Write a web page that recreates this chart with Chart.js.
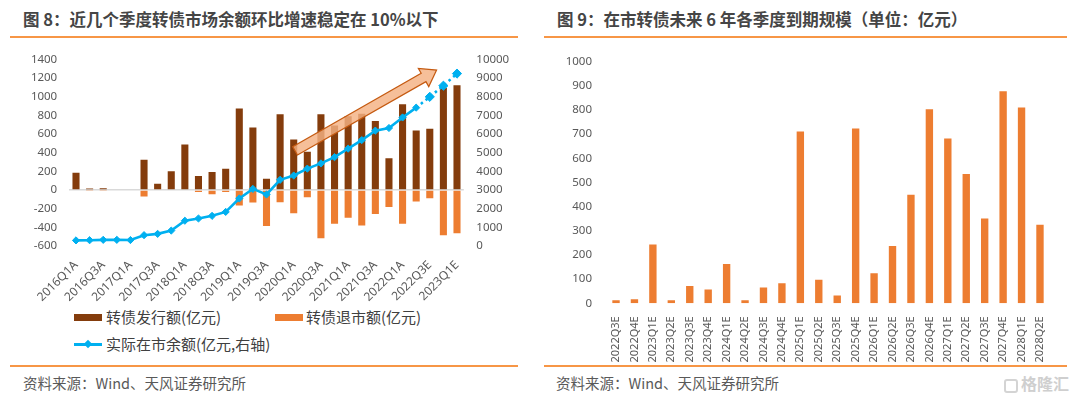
<!DOCTYPE html>
<html><head><meta charset="utf-8">
<script src="https://cdn.jsdelivr.net/npm/chart.js@4.4.0/dist/chart.umd.min.js"></script>
<style>
body{margin:0;width:1080px;height:399px;background:#fff;position:relative;overflow:hidden;font-family:"Noto Sans CJK SC","Noto Sans",sans-serif;}
.title{position:absolute;top:7px;font-size:16.5px;font-weight:bold;color:#454545;white-space:nowrap;line-height:24px}
.rule{position:absolute;height:2px;background:#F79646}
.src{position:absolute;top:373px;font-size:14.5px;color:#595959;line-height:20px;white-space:nowrap}
.leg{position:absolute;font-size:15px;color:#404040;line-height:20px;white-space:nowrap}
.sw{position:absolute}
canvas{position:absolute}
.wm{position:absolute;left:1004px;top:373px;font-size:16px;color:#CFCFCF;line-height:20px;white-space:nowrap;font-weight:bold}
.wm span{display:inline-block;width:14px;height:14px;border:2px solid #D4D4D4;border-radius:3px;vertical-align:-3px;margin-right:3px;box-sizing:border-box}
</style></head><body>
<div class="title" style="left:23px">图 8：近几个季度转债市场余额环比增速稳定在 10%以下</div>
<div class="rule" style="left:10px;width:508px;top:36px"></div>
<div class="title" style="left:557px">图 9：在市转债未来 6 年各季度到期规模（单位：亿元）</div>
<div class="rule" style="left:544px;width:523px;top:36px"></div>

<canvas id="c1" width="520" height="262" style="left:0;top:40px"></canvas>
<canvas id="c2" width="532" height="322" style="left:540px;top:40px"></canvas>

<div class="sw" style="left:74px;top:314px;width:28px;height:7px;background:#843C0C"></div>
<div class="leg" style="left:106px;top:307px">转债发行额(亿元)</div>
<div class="sw" style="left:275px;top:314px;width:28px;height:7px;background:#ED7D31"></div>
<div class="leg" style="left:306px;top:307px">转债退市额(亿元)</div>
<div class="sw" style="left:74px;top:343px;width:28px;height:2.5px;background:#00B0F0"></div>
<div class="sw" style="left:85px;top:341px;width:6px;height:6px;background:#00B0F0;transform:rotate(45deg)"></div>
<div class="leg" style="left:106px;top:334px">实际在市余额(亿元,右轴)</div>

<div class="rule" style="left:10px;width:508px;top:365px"></div>
<div class="rule" style="left:544px;width:523px;top:365px"></div>
<div class="src" style="left:23px">资料来源：Wind、天风证券研究所</div>
<div class="src" style="left:556px">资料来源：Wind、天风证券研究所</div>
<div class="wm"><span></span>格隆汇</div>

<script>
// ---------- Figure 8 data ----------
const leftCategories = ['2016Q1A','2016Q2A','2016Q3A','2016Q4A','2017Q1A','2017Q2A','2017Q3A','2017Q4A',
  '2018Q1A','2018Q2A','2018Q3A','2018Q4A','2019Q1A','2019Q2A','2019Q3A','2019Q4A',
  '2020Q1A','2020Q2A','2020Q3A','2020Q4A','2021Q1A','2021Q2A','2021Q3A','2021Q4A',
  '2022Q1A','2022Q2A','2022Q3E','2022Q4E','2023Q1E'];
const issuance = [185,15,20,0,0,325,67,200,488,151,193,228,874,670,120,811,541,411,811,692,790,818,741,341,920,639,657,1097,1124];
const retirement = [0,-4,-4,0,0,-70,0,0,0,-21,-45,-20,-165,-133,-386,-130,-249,-77,-516,-361,-298,-379,-256,-182,-361,-123,-88,-484,-463];
const outstanding = [300,310,330,330,320,580,650,826,1354,1475,1616,1827,2546,3060,2760,3548,3777,4146,4427,4760,5217,5675,6183,6324,6888,7415,7995,8590,9240];
const leftTicks = {min:-600, max:1400, step:200};
const rightTicks = {min:0, max:10000, step:1000};
const lastActualIndex = 25;
// trend arrow annotation (category index, right-axis value)
const arrowFrom = [16.1, 5100];
const arrowTo = [26.5, 9430];

// ---------- Figure 9 data ----------
const rightCategories = ['2022Q3E','2022Q4E','2023Q1E','2023Q2E','2023Q3E','2023Q4E','2024Q1E','2024Q2E',
  '2024Q3E','2024Q4E','2025Q1E','2025Q2E','2025Q3E','2025Q4E','2026Q1E','2026Q2E','2026Q3E','2026Q4E',
  '2027Q1E','2027Q2E','2027Q3E','2027Q4E','2028Q1E','2028Q2E'];
const maturity = [13,17,243,13,72,57,163,13,65,83,711,97,32,723,124,237,449,803,682,535,351,878,810,325];
const maturityTicks = {min:0, max:1000, step:100};

const tickColor = '#595959';
const tickFont = {family:'"Noto Sans","Noto Sans CJK SC",sans-serif', size:11.5};
const plain = v => String(v);

const arrowPlugin = {
  id:'trendArrow',
  afterDatasetsDraw(chart){
    const x = chart.scales.x, y1 = chart.scales.y1, ctx = chart.ctx;
    const x0 = x.getPixelForValue(arrowFrom[0]), y0 = y1.getPixelForValue(arrowFrom[1]);
    const x1 = x.getPixelForValue(arrowTo[0]), yy1 = y1.getPixelForValue(arrowTo[1]);
    const dx = x1-x0, dy = yy1-y0, len = Math.hypot(dx,dy);
    const ux = dx/len, uy = dy/len, nx = -uy, ny = ux;
    const w = 4.8, h = 10.5, L = 15;
    const bx = x1-ux*L, by = yy1-uy*L;
    ctx.save();
    ctx.beginPath();
    ctx.moveTo(x0+nx*w, y0+ny*w);
    ctx.lineTo(bx+nx*w, by+ny*w);
    ctx.lineTo(bx+nx*h, by+ny*h);
    ctx.lineTo(x1, yy1);
    ctx.lineTo(bx-nx*h, by-ny*h);
    ctx.lineTo(bx-nx*w, by-ny*w);
    ctx.lineTo(x0-nx*w, y0-ny*w);
    ctx.closePath();
    ctx.fillStyle = 'rgba(244,177,131,0.82)';
    ctx.fill();
    ctx.strokeStyle = '#C55A11';
    ctx.lineWidth = 1.2;
    ctx.stroke();
    ctx.restore();
  }
};

new Chart(document.getElementById('c1'), {
  type:'bar',
  data:{
    labels:leftCategories,
    datasets:[
      {type:'line', label:'实际在市余额(亿元,右轴)', data:outstanding, yAxisID:'y1',
        borderColor:'#00B0F0', backgroundColor:'#00B0F0', borderWidth:2.6,
        pointStyle:'rectRot', pointRadius:c=>c.dataIndex>lastActualIndex?4.6:3.6,
        pointBorderWidth:1, pointBorderColor:'#00B0F0', tension:0,
        segment:{borderDash:c=>c.p0DataIndex>=lastActualIndex?[2.5,3.5]:undefined}},
      {label:'转债发行额(亿元)', data:issuance, backgroundColor:'#843C0C', yAxisID:'y', stack:'s',
        barPercentage:0.52, categoryPercentage:1},
      {label:'转债退市额(亿元)', data:retirement, backgroundColor:'#ED7D31', yAxisID:'y', stack:'s',
        barPercentage:0.52, categoryPercentage:1}
    ]
  },
  options:{
    responsive:false, animation:false, devicePixelRatio:1,
    layout:{padding:{top:14.3,left:0,right:0,bottom:0}},
    plugins:{legend:{display:false}, tooltip:{enabled:false}},
    scales:{
      x:{stacked:true, grid:{display:false}, border:{display:false},
        ticks:{autoSkip:false, minRotation:45, maxRotation:45, padding:4, color:tickColor,
          font:{family:tickFont.family, size:12},
          callback:function(v,i){return i%2===0?this.getLabelForValue(v):'';}},
        afterFit:s=>{s.height=56;}},
      y:{stacked:true, position:'left', min:leftTicks.min, max:leftTicks.max,
        ticks:{stepSize:leftTicks.step, padding:12, color:tickColor, font:tickFont, callback:plain},
        grid:{drawTicks:false, color:c=>c.tick.value===0?'#D9D9D9':'rgba(0,0,0,0)', lineWidth:1.5},
        border:{display:false},
        afterFit:s=>{s.width=69.2;}},
      y1:{position:'right', min:rightTicks.min, max:rightTicks.max,
        ticks:{stepSize:rightTicks.step, padding:12.5, color:tickColor, font:tickFont, callback:plain},
        grid:{display:false, drawTicks:false}, border:{display:false},
        afterFit:s=>{s.width=56.2;}}
    }
  },
  plugins:[arrowPlugin]
});

new Chart(document.getElementById('c2'), {
  type:'bar',
  data:{
    labels:rightCategories,
    datasets:[{label:'到期规模', data:maturity, backgroundColor:'#ED7D31', barPercentage:0.4, categoryPercentage:1}]
  },
  options:{
    responsive:false, animation:false, devicePixelRatio:1,
    layout:{padding:{top:14,left:0,right:22.8,bottom:0}},
    plugins:{legend:{display:false}, tooltip:{enabled:false}},
    scales:{
      x:{grid:{display:false}, border:{display:false},
        ticks:{autoSkip:false, minRotation:90, maxRotation:90, padding:5, color:tickColor,
          font:{family:tickFont.family, size:11}},
        afterFit:s=>{s.height=58.7;}},
      y:{min:maturityTicks.min, max:maturityTicks.max,
        ticks:{stepSize:maturityTicks.step, padding:14.8, color:tickColor, font:tickFont, callback:plain},
        grid:{display:false, drawTicks:false}, border:{display:false},
        afterFit:s=>{s.width=66.8;}}
    }
  }
});
</script>
</body></html>
